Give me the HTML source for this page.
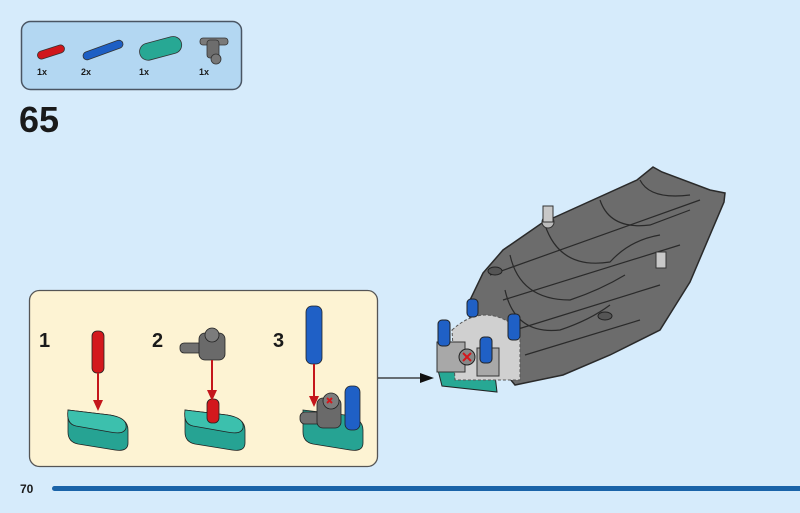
<!DOCTYPE html>
<html><head><meta charset="utf-8"><style>
html,body{margin:0;padding:0;background:#d6ebfb;}
svg{display:block}
text{font-family:"Liberation Sans",sans-serif;font-weight:bold;fill:#1a1a1a}
</style></head><body>
<svg width="800" height="513" viewBox="0 0 800 513" xmlns="http://www.w3.org/2000/svg">
<rect width="800" height="513" fill="#d6ebfb"/>
<rect x="21.5" y="21.5" width="220" height="68" rx="9" fill="#b3d7f2" stroke="#4a5563" stroke-width="1.5"/>
<g stroke="#333" stroke-width="0.8">
<rect x="37" y="48" width="28" height="8" rx="4" fill="#d0161b" transform="rotate(-18 51 52)"/>
<rect x="82" y="46" width="42" height="8" rx="4" fill="#1e5fc4" transform="rotate(-20 103 50)"/>
<rect x="139" y="40" width="43" height="17" rx="8.5" fill="#27a894" transform="rotate(-15 160 48)"/>
<rect x="200" y="38" width="28" height="7" rx="3" fill="#7a7a7a"/>
<rect x="207" y="40" width="12" height="18" rx="3" fill="#6d6d6d"/>
<circle cx="216" cy="59" r="5" fill="#777"/>
</g>
<text x="37" y="75" font-size="9">1x</text>
<text x="81" y="75" font-size="9">2x</text>
<text x="139" y="75" font-size="9">1x</text>
<text x="199" y="75" font-size="9">1x</text>
<text x="19" y="132" font-size="36">65</text>
<rect x="29.5" y="290.5" width="348" height="176" rx="10" fill="#fdf3d3" stroke="#555" stroke-width="1.3"/>
<text x="39" y="347" font-size="20">1</text>
<text x="152" y="347" font-size="20">2</text>
<text x="273" y="347" font-size="20">3</text>
<g stroke="#222" stroke-width="0.8">
<path d="M68 410 L110 415 Q128 418 128 430 L128 443 Q128 452 115 450 L78 444 Q68 442 68 432 Z" fill="#26a393"/>
<path d="M68 410 L110 415 Q128 418 126 428 Q124 435 110 432 L76 426 Q66 424 68 410 Z" fill="#3cc0ad"/>
<rect x="92" y="331" width="12" height="42" rx="5" fill="#d3181d"/>
<path d="M185 410 L227 415 Q245 418 245 430 L245 443 Q245 452 232 450 L195 444 Q185 442 185 432 Z" fill="#26a393"/>
<path d="M185 410 L227 415 Q245 418 243 428 Q241 435 227 432 L193 426 Q183 424 185 410 Z" fill="#3cc0ad"/>
<rect x="207" y="399" width="12" height="24" rx="5" fill="#d3181d"/>
<rect x="180" y="343" width="30" height="10" rx="4" fill="#707070"/>
<rect x="199" y="333" width="26" height="27" rx="6" fill="#6a6a6a"/>
<circle cx="212" cy="335" r="7" fill="#7c7c7c"/>
<path d="M303 410 L345 415 Q363 418 363 430 L363 443 Q363 452 350 450 L313 444 Q303 442 303 432 Z" fill="#26a393"/>
<rect x="300" y="412" width="40" height="12" rx="5" fill="#707070"/>
<rect x="317" y="398" width="24" height="30" rx="6" fill="#6a6a6a"/>
<circle cx="331" cy="401" r="8" fill="#7c7c7c"/>
<rect x="345" y="386" width="15" height="44" rx="6" fill="#1f60c6"/>
<rect x="306" y="306" width="16" height="58" rx="6" fill="#1f60c6"/>
</g>
<path d="M327 398 l5 5 M332 398 l-5 5" stroke="#d3181d" stroke-width="2"/>
<g stroke="#c4161c" stroke-width="2" fill="#c4161c">
<line x1="98" y1="373" x2="98" y2="402"/><path d="M93 400 L98 411 L103 400Z" stroke="none"/>
<line x1="212" y1="360" x2="212" y2="392"/><path d="M207 390 L212 401 L217 390Z" stroke="none"/>
<line x1="314" y1="364" x2="314" y2="398"/><path d="M309 396 L314 407 L319 396Z" stroke="none"/>
</g>
<line x1="378" y1="378" x2="424" y2="378" stroke="#222" stroke-width="1.3"/>
<path d="M420 373 L434 378 L420 383Z" fill="#111"/>
<path d="M515 385 L470 330 L470 300 L483 273 L503 250 L542 223 L637 180 L653 167 L662 172 L710 190 L725 193 L724 202 L690 282 L660 330 L610 355 L563 375 Z" fill="#6c6c6c" stroke="#2a2a2a" stroke-width="1.5"/>
<g stroke="#2a2a2a" stroke-width="1.2" fill="none">
<path d="M490 275 L700 200"/>
<path d="M503 300 L680 245"/>
<path d="M515 330 L660 285"/>
<path d="M525 355 L640 320"/>
<path d="M545 225 Q560 270 610 262 Q630 240 660 235"/>
<path d="M510 255 Q520 300 570 300 Q600 290 625 275"/>
<path d="M505 290 Q515 335 560 330 Q590 320 610 305"/>
<path d="M600 200 Q610 230 650 225 L690 210"/>
<path d="M640 180 Q650 200 690 195"/>
</g>
<circle cx="548" cy="222" r="6" fill="#bcbcbc" stroke="#333"/>
<rect x="543" y="206" width="10" height="16" fill="#c8c8c8" stroke="#333"/>
<rect x="656" y="252" width="10" height="16" fill="#c8c8c8" stroke="#333"/>
<ellipse cx="495" cy="271" rx="7" ry="4" fill="#555" stroke="#222"/>
<ellipse cx="605" cy="316" rx="7" ry="4" fill="#555" stroke="#222"/>
<path d="M438 370 L495 375 L497 392 L442 386 Z" fill="#27a894" stroke="#222"/>
<path d="M452 330 Q485 300 520 330 L520 380 L455 380 Z" fill="#d0d0d0" stroke="#555" stroke-dasharray="3 2"/>
<rect x="437" y="342" width="28" height="30" fill="#a8a8a8" stroke="#333"/>
<rect x="477" y="348" width="22" height="28" fill="#a8a8a8" stroke="#333"/>
<circle cx="467" cy="357" r="8" fill="#888" stroke="#222"/>
<path d="M463 353 l8 8 M471 353 l-8 8" stroke="#d3181d" stroke-width="2"/>
<g fill="#1f60c6" stroke="#222">
<rect x="438" y="320" width="12" height="26" rx="4"/>
<rect x="480" y="337" width="12" height="26" rx="4"/>
<rect x="508" y="314" width="12" height="26" rx="4"/>
<rect x="467" y="299" width="11" height="18" rx="4"/>
</g>
<text x="20" y="493" font-size="12">70</text>
<rect x="52" y="486" width="760" height="5" rx="2.5" fill="#1a63a8"/>
</svg>
</body></html>
